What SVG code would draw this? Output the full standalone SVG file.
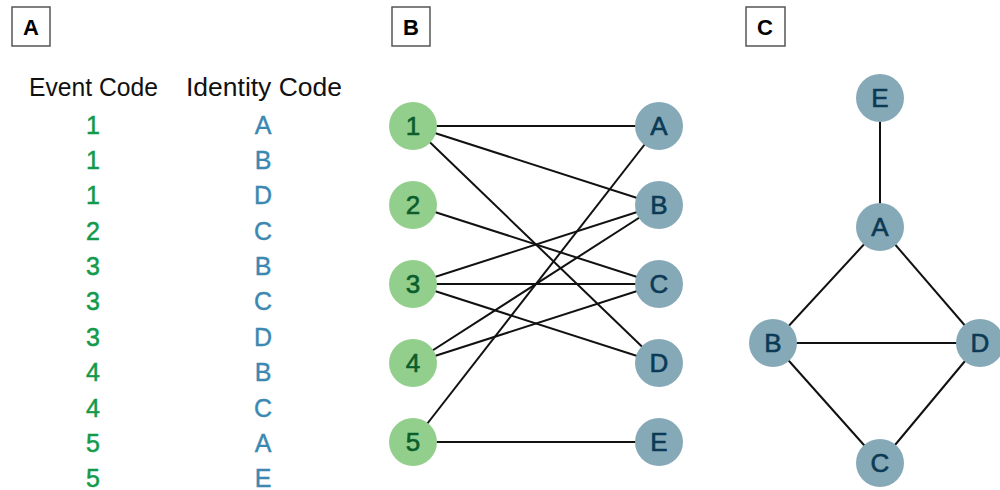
<svg xmlns="http://www.w3.org/2000/svg" width="1000" height="490" viewBox="0 0 1000 490">
  <style>
    .panel { fill: #ffffff; stroke: #555555; stroke-width: 1.5; }
    .plabel { font-family: "Liberation Sans", Arial, sans-serif; font-size: 22px; font-weight: bold; fill: #000000; text-anchor: middle; }
    .head { font-family: "Liberation Sans", Arial, sans-serif; font-size: 25px; fill: #111111; }
    .ev { font-family: "Liberation Sans", Arial, sans-serif; font-size: 25px; fill: #129a4a; stroke: #129a4a; stroke-width: 0.5; text-anchor: middle; }
    .id { font-family: "Liberation Sans", Arial, sans-serif; font-size: 25px; fill: #3b88b0; stroke: #3b88b0; stroke-width: 0.4; text-anchor: middle; }
    .edge { stroke: #111111; stroke-width: 2; fill: none; }
    .gnode circle { fill: #93cf8c; }
    .gnode text { font-family: "Liberation Sans", Arial, sans-serif; font-size: 26px; fill: #0b5e2c; stroke: #0b5e2c; stroke-width: 0.6; text-anchor: middle; }
    .bnode circle { fill: #86a9b8; }
    .bnode text { font-family: "Liberation Sans", Arial, sans-serif; font-size: 26px; fill: #0c3a55; stroke: #0c3a55; stroke-width: 0.6; text-anchor: middle; }
  </style>

  <!-- Panel A: event / identity table -->
  <g id="panel-a">
    <rect class="panel" x="12" y="7" width="38" height="39"/>
    <text class="plabel" x="31" y="35">A</text>
    <text class="head" x="29" y="96" textLength="129" lengthAdjust="spacingAndGlyphs">Event Code</text>
    <text class="head" x="186" y="96" textLength="156" lengthAdjust="spacingAndGlyphs">Identity Code</text>
    <g id="event-col">
      <text class="ev" x="93" y="134">1</text>
      <text class="ev" x="93" y="169">1</text>
      <text class="ev" x="93" y="204">1</text>
      <text class="ev" x="93" y="240">2</text>
      <text class="ev" x="93" y="275">3</text>
      <text class="ev" x="93" y="310">3</text>
      <text class="ev" x="93" y="346">3</text>
      <text class="ev" x="93" y="381">4</text>
      <text class="ev" x="93" y="417">4</text>
      <text class="ev" x="93" y="452">5</text>
      <text class="ev" x="93" y="487">5</text>
    </g>
    <g id="identity-col">
      <text class="id" x="263" y="134">A</text>
      <text class="id" x="263" y="169">B</text>
      <text class="id" x="263" y="204">D</text>
      <text class="id" x="263" y="240">C</text>
      <text class="id" x="263" y="275">B</text>
      <text class="id" x="263" y="310">C</text>
      <text class="id" x="263" y="346">D</text>
      <text class="id" x="263" y="381">B</text>
      <text class="id" x="263" y="417">C</text>
      <text class="id" x="263" y="452">A</text>
      <text class="id" x="263" y="487">E</text>
    </g>
  </g>

  <!-- Panel B: bipartite event-identity graph -->
  <g id="panel-b">
    <rect class="panel" x="392" y="7" width="38" height="39"/>
    <text class="plabel" x="411" y="35">B</text>
    <g id="b-connectors">
      <line class="edge" x1="413" y1="126" x2="659" y2="126"/>
      <line class="edge" x1="413" y1="126" x2="659" y2="205"/>
      <line class="edge" x1="413" y1="126" x2="659" y2="363"/>
      <line class="edge" x1="413" y1="205" x2="659" y2="284"/>
      <line class="edge" x1="413" y1="284" x2="659" y2="205"/>
      <line class="edge" x1="413" y1="284" x2="659" y2="284"/>
      <line class="edge" x1="413" y1="284" x2="659" y2="363"/>
      <line class="edge" x1="413" y1="363" x2="659" y2="205"/>
      <line class="edge" x1="413" y1="363" x2="659" y2="284"/>
      <line class="edge" x1="413" y1="442" x2="659" y2="126"/>
      <line class="edge" x1="413" y1="442" x2="659" y2="442"/>
    </g>
    <g id="b-ev1" class="gnode"><circle cx="413" cy="126" r="24"/><text x="413" y="135">1</text></g>
    <g id="b-ev2" class="gnode"><circle cx="413" cy="205" r="24"/><text x="413" y="214">2</text></g>
    <g id="b-ev3" class="gnode"><circle cx="413" cy="284" r="24"/><text x="413" y="293">3</text></g>
    <g id="b-ev4" class="gnode"><circle cx="413" cy="363" r="24"/><text x="413" y="372">4</text></g>
    <g id="b-ev5" class="gnode"><circle cx="413" cy="442" r="24"/><text x="413" y="451">5</text></g>
    <g id="b-idA" class="bnode"><circle cx="659" cy="126" r="24"/><text x="659" y="135">A</text></g>
    <g id="b-idB" class="bnode"><circle cx="659" cy="205" r="24"/><text x="659" y="214">B</text></g>
    <g id="b-idC" class="bnode"><circle cx="659" cy="284" r="24"/><text x="659" y="293">C</text></g>
    <g id="b-idD" class="bnode"><circle cx="659" cy="363" r="24"/><text x="659" y="372">D</text></g>
    <g id="b-idE" class="bnode"><circle cx="659" cy="442" r="24"/><text x="659" y="451">E</text></g>
  </g>

  <!-- Panel C: identity projection graph -->
  <g id="panel-c">
    <rect class="panel" x="746" y="7" width="39" height="39"/>
    <text class="plabel" x="765" y="35">C</text>
    <g id="c-connectors">
      <line class="edge" x1="880" y1="98" x2="880" y2="227"/>
      <line class="edge" x1="880" y1="227" x2="773" y2="343"/>
      <line class="edge" x1="880" y1="227" x2="980" y2="343"/>
      <line class="edge" x1="773" y1="343" x2="980" y2="343"/>
      <line class="edge" x1="773" y1="343" x2="880" y2="463"/>
      <line class="edge" x1="980" y1="343" x2="880" y2="463"/>
    </g>
    <g id="c-E" class="bnode"><circle cx="880" cy="98" r="24"/><text x="880" y="107">E</text></g>
    <g id="c-A" class="bnode"><circle cx="880" cy="227" r="24"/><text x="880" y="236">A</text></g>
    <g id="c-B" class="bnode"><circle cx="773" cy="343" r="24"/><text x="773" y="352">B</text></g>
    <g id="c-D" class="bnode"><circle cx="980" cy="343" r="24"/><text x="980" y="352">D</text></g>
    <g id="c-C" class="bnode"><circle cx="880" cy="463" r="24"/><text x="880" y="472">C</text></g>
  </g>
</svg>
